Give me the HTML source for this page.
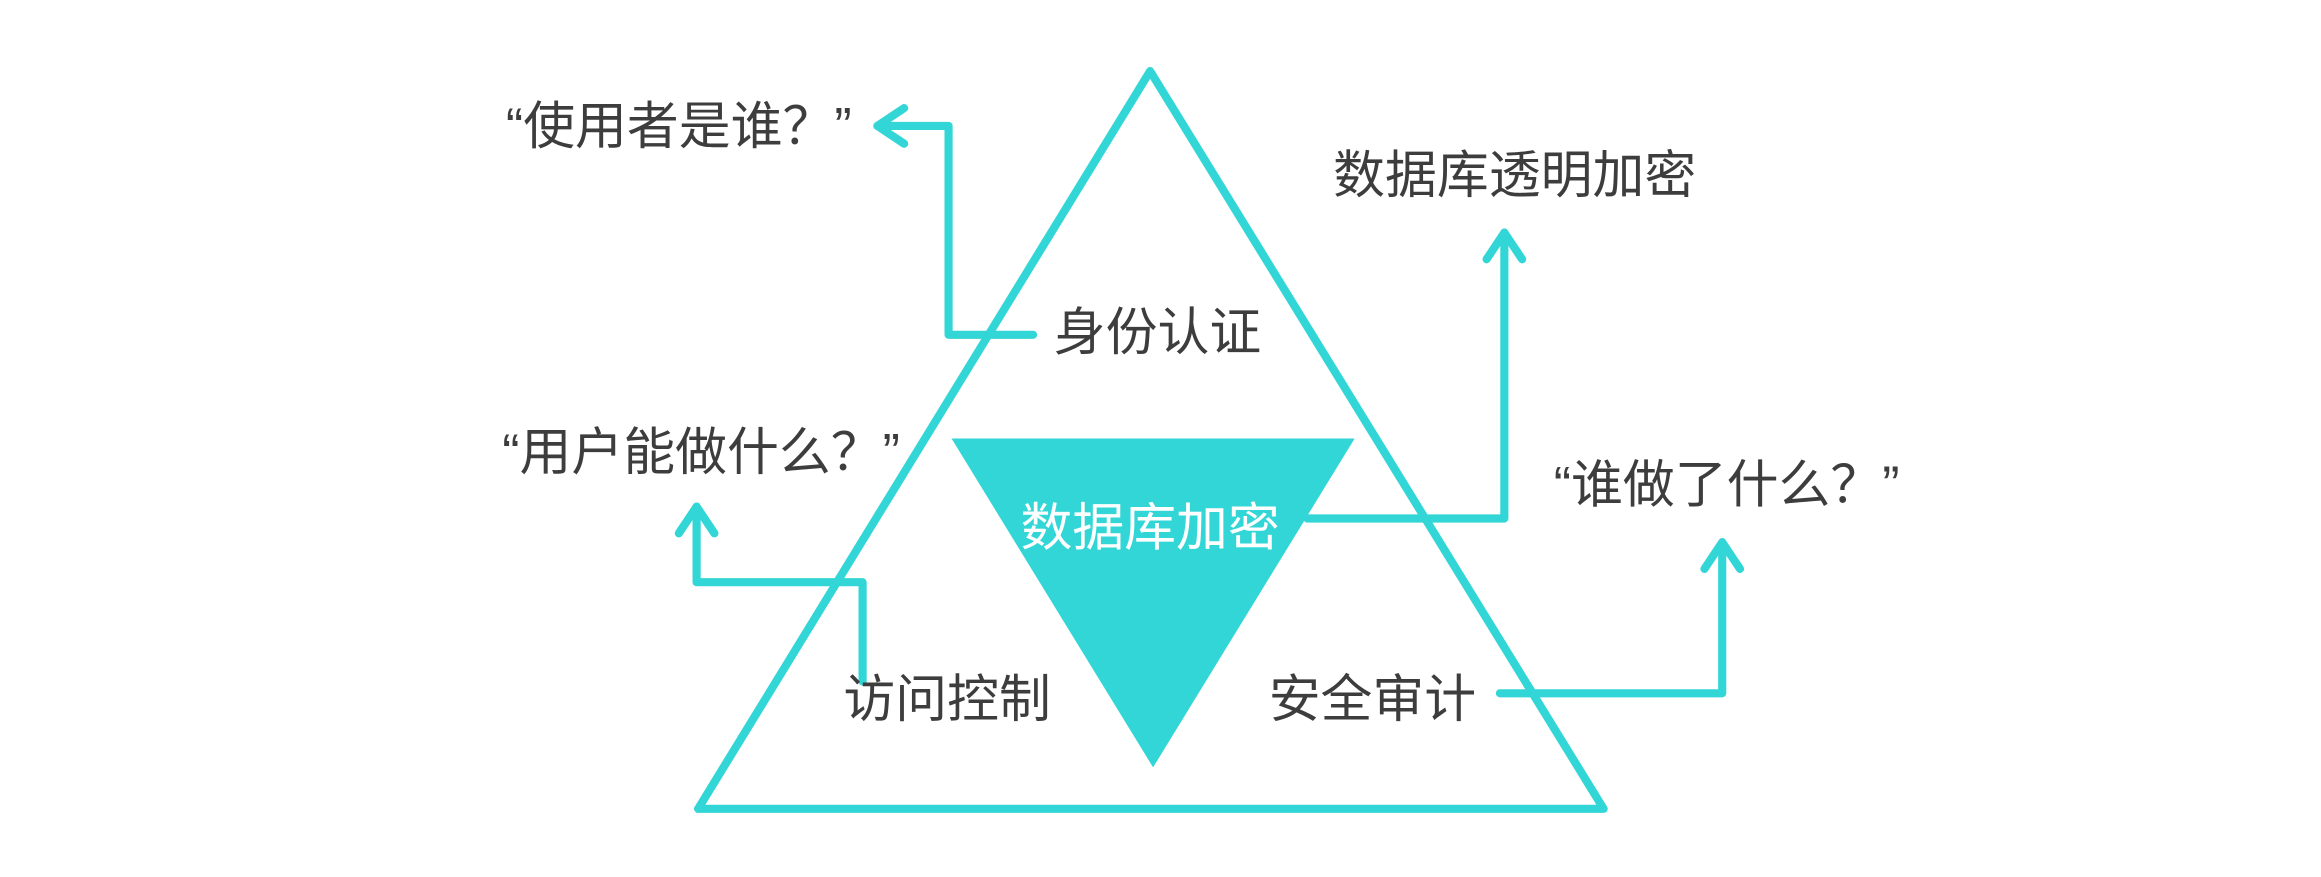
<!DOCTYPE html>
<html><head><meta charset="utf-8"><style>
html,body{margin:0;padding:0;background:#fff;}
svg{display:block;}
text{font-family:"Liberation Sans","Noto Sans CJK SC",sans-serif;fill:#3d3d3d;font-size:35px;dominant-baseline:central;}
</style></head><body>
<svg width="2321" height="877" viewBox="0 0 1566 592" preserveAspectRatio="none" xmlns="http://www.w3.org/2000/svg">
<g stroke="#33d6d6" stroke-width="5.5" fill="none" stroke-linecap="round" stroke-linejoin="round">
<polygon points="776,48 471,546 1082,546"/>
<polyline points="697,226 640,226 640,85 592,85"/>
<polyline points="610,73 592,85 610,97"/>
<polyline points="882,350 1015,350 1015,157"/>
<polyline points="1003,175 1015,157 1027,175"/>
<polyline points="582,460 582,393 470,393 470,342"/>
<polyline points="458,360 470,342 482,360"/>
<polyline points="1012,468 1162,468 1162,366"/>
<polyline points="1150,384 1162,366 1174,384"/>
</g>
<polygon points="642,296 914,296 778,518" fill="#33d6d6"/>
<text x="776" y="356" text-anchor="middle" style="fill:#fff">数据库加密</text>
<text x="781" y="224" text-anchor="middle">身份认证</text>
<text x="639" y="472" text-anchor="middle">访问控制</text>
<text x="926" y="472" text-anchor="middle">安全审计</text>
<text x="1022" y="118" text-anchor="middle">数据库透明加密</text>
<text x="458" y="85" text-anchor="middle">“使用者是谁？”</text>
<text x="473" y="305" text-anchor="middle">“用户能做什么？”</text>
<text x="1165" y="327" text-anchor="middle">“谁做了什么？”</text>
</svg>
</body></html>
